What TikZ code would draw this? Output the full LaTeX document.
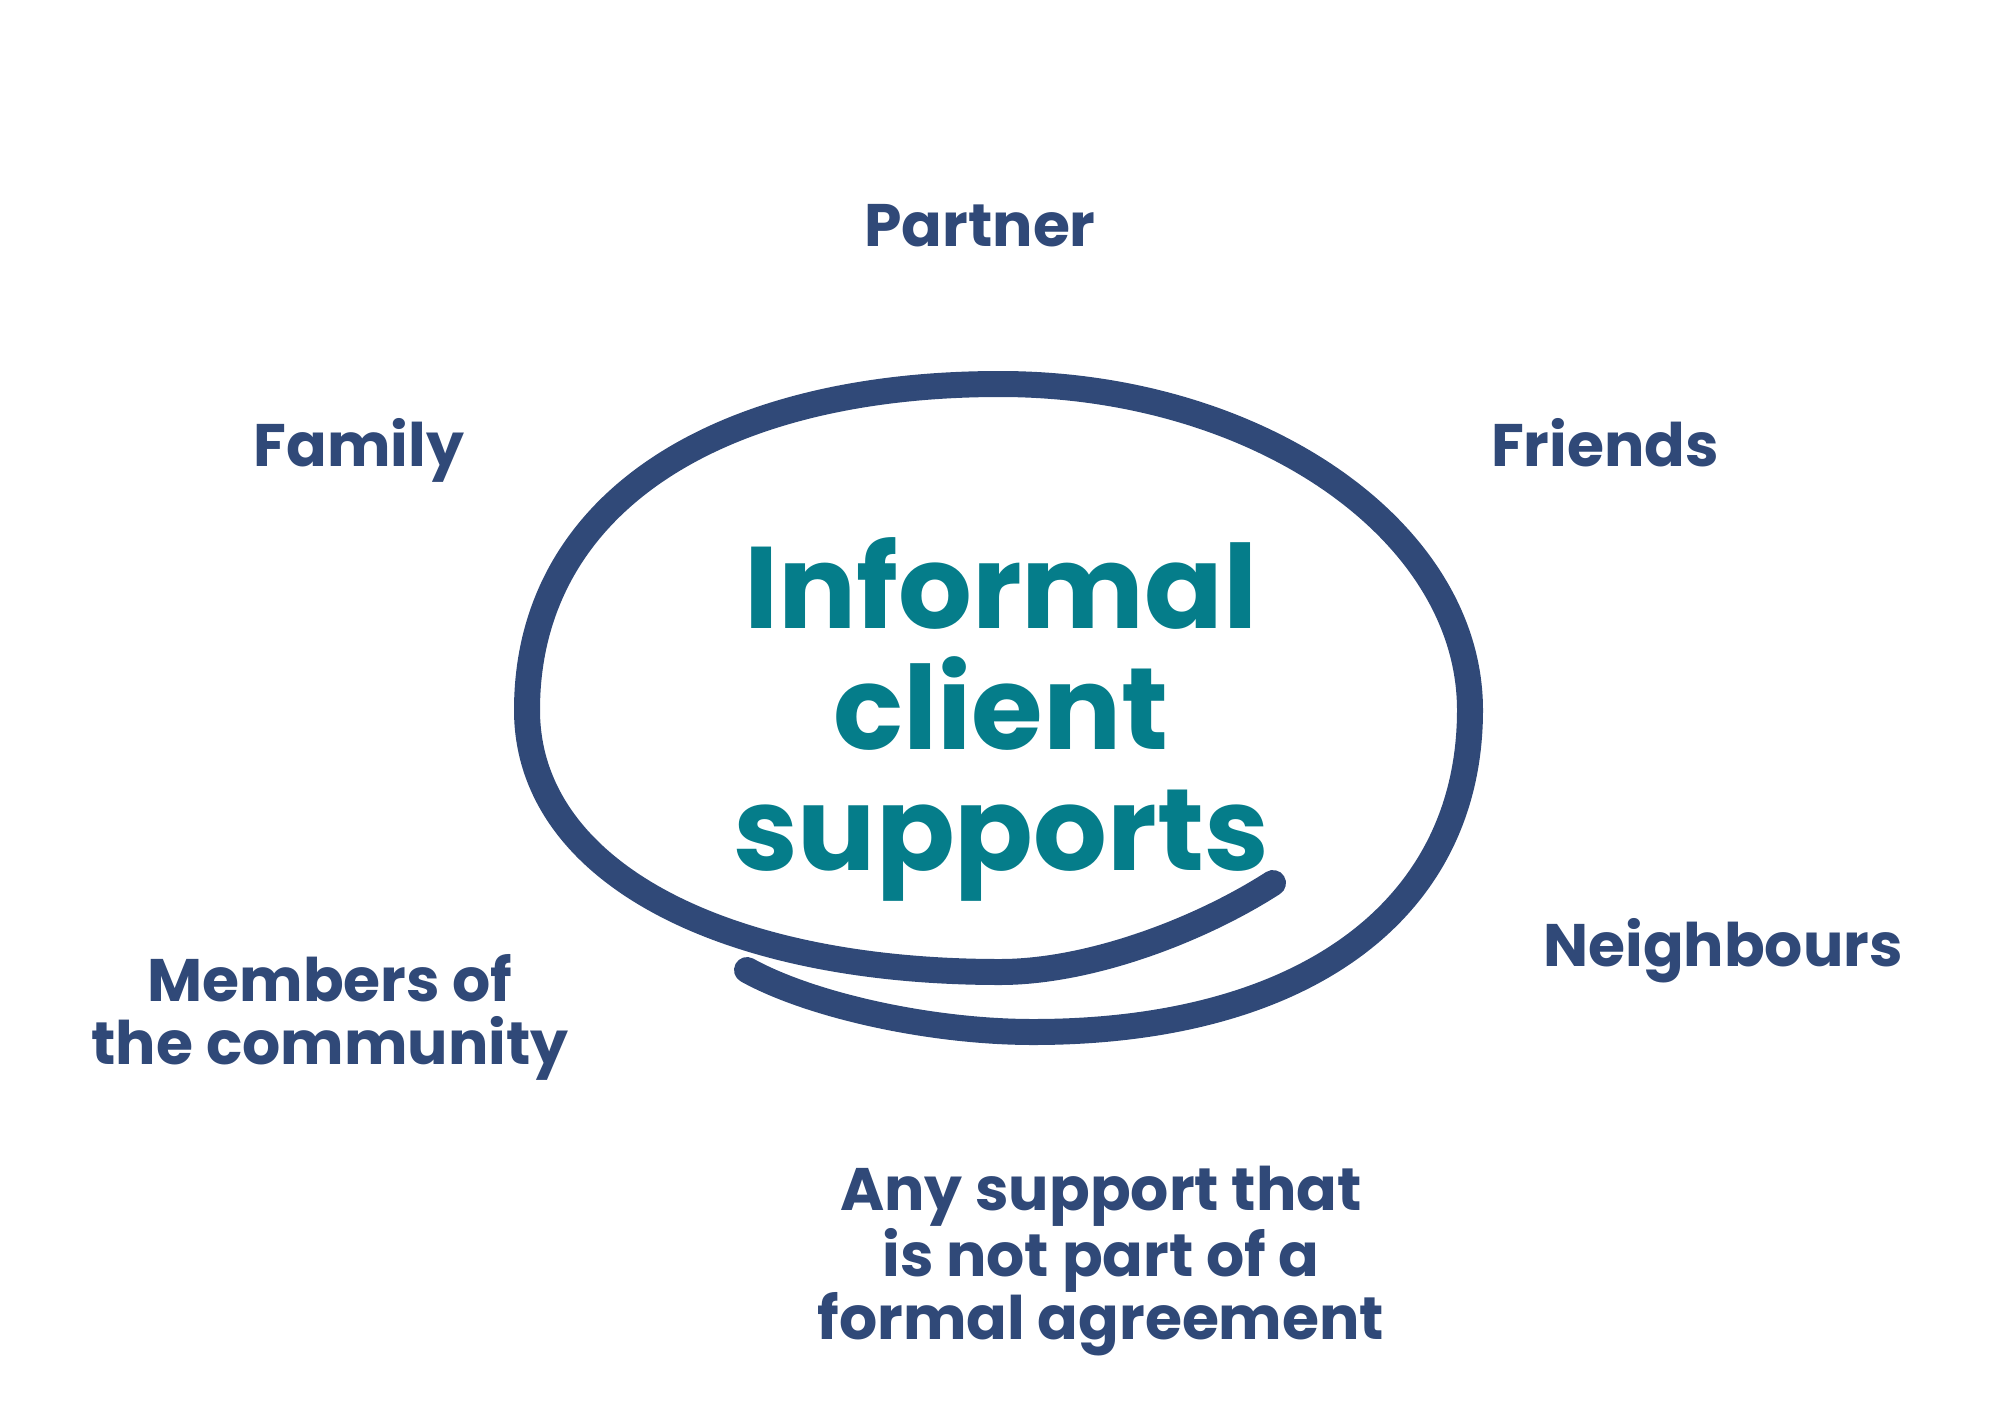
\documentclass[tikz,border=0pt]{standalone}
\usepackage{fontspec}
\setmainfont{Poppins}
\usepackage{xcolor}
\usepackage{tikz}
\usetikzlibrary{positioning}
\definecolor{supnavy}{HTML}{304978}
\definecolor{supteal}{HTML}{057D8A}

\begin{document}
\begin{tikzpicture}[x=1pt, y=-1pt]
		\tikzset{
			support/.style={text=supnavy, align=center, anchor=base, inner sep=0pt,
			font=\bfseries\fontsize{60}{63}\selectfont},
			centre/.style={text=supteal, align=center, anchor=base, inner sep=0pt,
			font=\bfseries\fontsize{116}{121}\selectfont},
			ringline/.style={draw=supnavy, line width=26pt, line cap=round, line join=round}
		}
		\useasboundingbox (0,0) rectangle (2000,1414);

		% hand drawn ring round the title
		\coordinate (start) at (1273,883);
		\coordinate (low) at (1000,972);
		\coordinate (left) at (527,710);
		\coordinate (top) at (1000,384);
		\coordinate (right) at (1470,710);
		\coordinate (bottom) at (1033,1032);
		\coordinate (finish) at (747,970);
		\draw[ringline] (start) .. controls (1200,930) and (1090,972) .. (low)
			.. controls (720,972) and (527,870) .. (left)
			.. controls (527,505) and (715,384) .. (top)
			.. controls (1258,384) and (1470,531) .. (right)
			.. controls (1470,910) and (1304,1032) .. (bottom)
			.. controls (930,1032) and (810,1005) .. (finish);

		% last line of each block sits on the given baseline
		\node[centre](title) at (1001,870){Informal\\client\\supports};

		\node[support](partner) at (980,246){Partner};
		\node[support](family) at (359,466){Family};
		\node[support](friends) at (1605,466){Friends};
		\node[support](neighbours) at (1723,966){Neighbours};
		\node[support](community) at (330,1064){Members of\\the community};
		\node[support](agreement) at (1101,1339){Any support that\\is not part of a\\formal agreement};
	\end{tikzpicture}
\end{document}
